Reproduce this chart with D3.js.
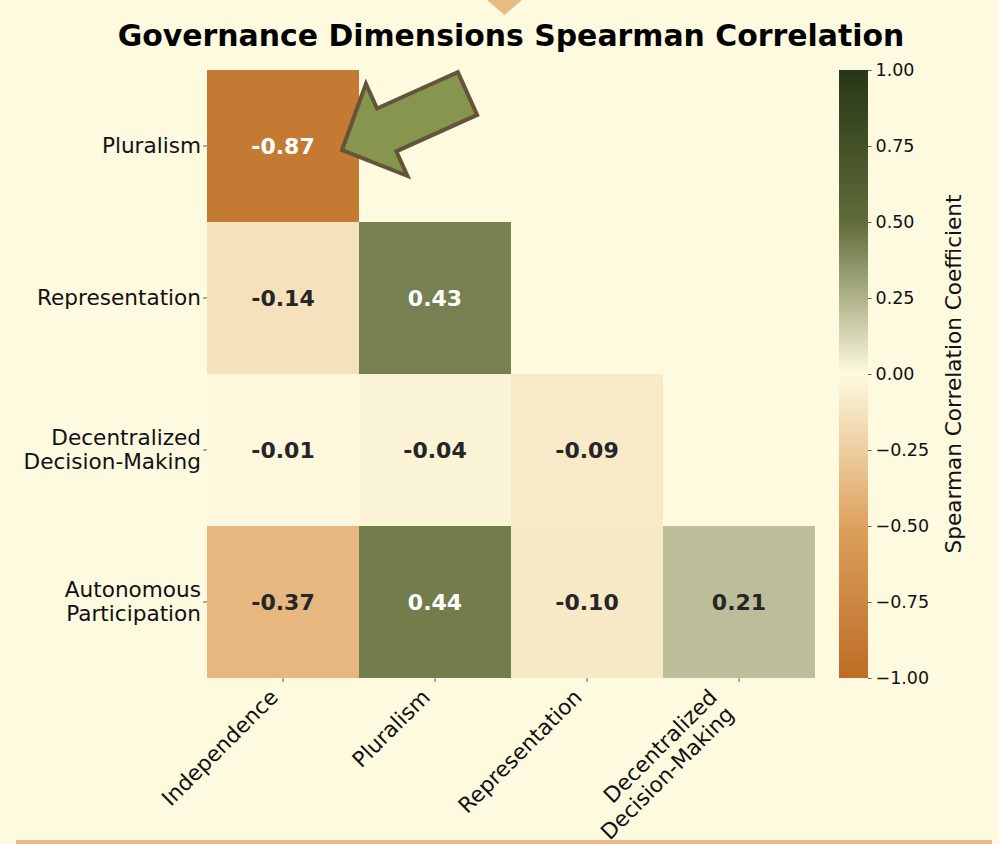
<!DOCTYPE html>
<html>
<head>
<meta charset="utf-8">
<script src="https://cdn.jsdelivr.net/npm/d3@7"></script>
<style>
  html, body { margin: 0; padding: 0; background: #fefae0; }
  svg { display: block; font-family: "DejaVu Sans", sans-serif; }
</style>
</head>
<body>
<div id="chart"></div>
<script>
// chart data
const rowLabels = [["Pluralism"], ["Representation"], ["Decentralized", "Decision-Making"], ["Autonomous", "Participation"]];
const colLabels = [["Independence"], ["Pluralism"], ["Representation"], ["Decentralized", "Decision-Making"]];
// lower triangle, row by row (null = masked)
const corrValues = [
  [-0.87, null, null, null],
  [-0.14, 0.43, null, null],
  [-0.01, -0.04, -0.09, null],
  [-0.37, 0.44, -0.10, 0.21]
];
const cbarTicks = [-1, -0.75, -0.5, -0.25, 0, 0.25, 0.5, 0.75, 1];
const cmapStops = [-1, -0.5, 0, 0.5, 1];
const cmapColors = ["#bc6c25", "#dda15e", "#fefae0", "#606c38", "#283618"];

const width = 999, height = 844;
const bg = "#fefae0";
const plot = { left: 207, top: 70, size: 608 };
const cbar = { x: 839, w: 29 };

const svg = d3.select("#chart").append("svg")
  .attr("width", width)
  .attr("height", height);

svg.append("rect").attr("width", width).attr("height", height).attr("fill", bg);

const color = d3.scaleLinear().domain(cmapStops).range(cmapColors).interpolate(d3.interpolateRgb);

const x = d3.scaleBand().domain(d3.range(colLabels.length)).range([plot.left, plot.left + plot.size]);
const y = d3.scaleBand().domain(d3.range(rowLabels.length)).range([plot.top, plot.top + plot.size]);

// decorative triangle at top & line at bottom
svg.append("path")
  .attr("d", "M487,0 L522,0 L504.5,15 Z")
  .attr("fill", "#dda15e").attr("opacity", 0.7);
svg.append("rect")
  .attr("x", 16).attr("y", 840).attr("width", 976).attr("height", 4)
  .attr("fill", "#dda15e").attr("opacity", 0.7);

// title
svg.append("text")
  .attr("x", 511).attr("y", 46)
  .attr("text-anchor", "middle")
  .attr("font-size", 29.9).attr("font-weight", "bold")
  .attr("fill", "#000")
  .text("Governance Dimensions Spearman Correlation");

// cells
const cells = [];
corrValues.forEach((row, i) => row.forEach((v, j) => {
  if (v !== null) cells.push({ i, j, v });
}));

const g = svg.append("g");
g.selectAll("rect.cell").data(cells).enter().append("rect")
  .attr("class", "cell")
  .attr("x", d => x(d.j))
  .attr("y", d => y(d.i))
  .attr("width", x.bandwidth())
  .attr("height", y.bandwidth())
  .attr("fill", d => color(d.v));

g.selectAll("text.annot").data(cells).enter().append("text")
  .attr("class", "annot")
  .attr("x", d => x(d.j) + x.bandwidth() / 2)
  .attr("y", d => y(d.i) + y.bandwidth() / 2 + 8)
  .attr("text-anchor", "middle")
  .attr("font-size", 22).attr("font-weight", "bold")
  .attr("fill", d => Math.abs(d.v) > 0.4 ? "#ffffff" : "#262626")
  .text(d => d.v.toFixed(2));

// y axis ticks + labels
const fs = 21.6, lh = 24;
rowLabels.forEach((lines, i) => {
  const cy = y(i) + y.bandwidth() / 2;
  svg.append("line")
    .attr("x1", plot.left - 4).attr("x2", plot.left)
    .attr("y1", cy).attr("y2", cy)
    .attr("stroke", "#333").attr("stroke-width", 0.8);
  const t = svg.append("text")
    .attr("text-anchor", "end")
    .attr("font-size", fs).attr("fill", "#111");
  lines.forEach((s, k) => {
    t.append("tspan")
      .attr("x", plot.left - 6)
      .attr("y", cy + 6.5 + (k - (lines.length - 1) / 2) * lh)
      .text(s);
  });
});

// x axis ticks + rotated labels
const bottom = plot.top + plot.size;
colLabels.forEach((lines, j) => {
  const cx = x(j) + x.bandwidth() / 2;
  svg.append("line")
    .attr("x1", cx).attr("x2", cx)
    .attr("y1", bottom).attr("y2", bottom + 4)
    .attr("stroke", "#333").attr("stroke-width", 0.8);
  const n = lines.length - 1;
  const ax = cx - 3.7;
  const ay = bottom + 9 + 11.6 + 0.707 * lh * n;
  const t = svg.append("text")
    .attr("transform", `translate(${ax},${ay}) rotate(-45)`)
    .attr("text-anchor", "end")
    .attr("font-size", fs).attr("fill", "#111");
  lines.forEach((s, k) => {
    t.append("tspan").attr("x", 0).attr("y", (k - n) * lh).text(s);
  });
});

// colorbar
const cy = d3.scaleLinear().domain([-1, 1]).range([plot.top + plot.size, plot.top]);
const defs = svg.append("defs");
const grad = defs.append("linearGradient")
  .attr("id", "cbgrad")
  .attr("x1", 0).attr("y1", 1).attr("x2", 0).attr("y2", 0);
d3.range(0, 1.0001, 0.05).forEach(t => {
  grad.append("stop").attr("offset", t).attr("stop-color", color(-1 + 2 * t));
});
svg.append("rect")
  .attr("x", cbar.x).attr("y", plot.top)
  .attr("width", cbar.w).attr("height", plot.size)
  .attr("fill", "url(#cbgrad)");

const cbAxis = d3.axisRight(cy)
  .tickValues(cbarTicks)
  .tickSize(3.5)
  .tickPadding(4)
  .tickFormat(d => d3.format(".2f")(d).replace("-", "\u2212"));
const cbg = svg.append("g")
  .attr("transform", `translate(${cbar.x + cbar.w},0)`)
  .call(cbAxis);
cbg.select(".domain").remove();
cbg.selectAll(".tick line").attr("stroke", "#333").attr("stroke-width", 0.8);
cbg.selectAll(".tick text")
  .attr("font-size", 17.5).attr("fill", "#111")
  .attr("font-family", "DejaVu Sans, sans-serif");

svg.append("text")
  .attr("transform", `translate(961,${cy(0)}) rotate(-90)`)
  .attr("text-anchor", "middle")
  .attr("font-size", fs).attr("fill", "#111")
  .text("Spearman Correlation Coefficient");

// arrow annotation pointing at the strongest (negative) correlation
const cx0 = x(0) + x.bandwidth() / 2, cy0 = y(0) + y.bandwidth() / 2;
const tip = [cx0 + 59, cy0 + 4];
const tail = [cx0 + 184.5, cy0 - 52.5];
const dx = tip[0] - tail[0], dy = tip[1] - tail[1];
const len = Math.hypot(dx, dy);
const ux = dx / len, uy = dy / len;   // along arrow
const px = -uy, py = ux;             // perpendicular
const shaftW = 47, headW = 101, headL = 49;
const base = [tip[0] - ux * headL, tip[1] - uy * headL];
const pt = (p, s) => [p[0] + px * s, p[1] + py * s];
const arrowPts = [
  tip,
  pt(base, headW / 2),
  pt(base, shaftW / 2),
  pt(tail, shaftW / 2),
  pt(tail, -shaftW / 2),
  pt(base, -shaftW / 2),
  pt(base, -headW / 2)
];
svg.append("polygon")
  .attr("points", arrowPts.map(p => p.join(",")).join(" "))
  .attr("fill", "#86964f")
  .attr("stroke", "#65533a")
  .attr("stroke-width", 4)
  .attr("stroke-linejoin", "miter");
</script>
</body>
</html>
